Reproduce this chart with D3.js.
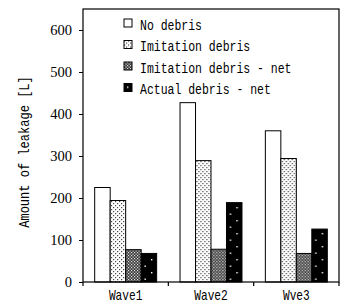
<!DOCTYPE html>
<html>
<head>
<meta charset="utf-8">
<script src="https://cdn.jsdelivr.net/npm/d3@7"></script>
<style>
body { margin: 0; background: #fff; }
svg { display: block; }
</style>
</head>
<body>
<div id="chart"></div>
<script>
var waves = ["Wave1", "Wave2", "Wve3"];
var seriesNames = ["No debris", "Imitation debris", "Imitation debris - net", "Actual debris - net"];
var noDebris = [225, 427, 360];
var imitation = [194, 289, 294];
var imitationNet = [77, 78, 68];
var actualNet = [68, 189, 126];
var yTicks = [0, 100, 200, 300, 400, 500, 600];

var seriesValues = [noDebris, imitation, imitationNet, actualNet];
var fills = ["#fff", "url(#dots)", "url(#hatch)", "url(#blackdots)"];

var W = 344, H = 304;
var margin = {top: 9, right: 5, bottom: 22, left: 83};
var w = W - margin.left - margin.right;
var h = H - margin.top - margin.bottom;

var monoFont = "'Liberation Mono', 'DejaVu Sans Mono', monospace";

var svg = d3.select("#chart").append("svg")
    .attr("width", W)
    .attr("height", H);

// patterns for the bars
var defs = svg.append("defs");
var p1 = defs.append("pattern").attr("id", "dots")
    .attr("patternUnits", "userSpaceOnUse").attr("width", 4).attr("height", 4);
p1.append("rect").attr("width", 4).attr("height", 4).attr("fill", "#fff");
p1.append("rect").attr("x", 0).attr("y", 0).attr("width", 1.2).attr("height", 1.2).attr("fill", "#444");
p1.append("rect").attr("x", 2).attr("y", 2).attr("width", 1.2).attr("height", 1.2).attr("fill", "#444");

var p2 = defs.append("pattern").attr("id", "hatch")
    .attr("patternUnits", "userSpaceOnUse").attr("width", 3).attr("height", 3);
p2.append("rect").attr("width", 3).attr("height", 3).attr("fill", "#3a3a3a");
p2.append("rect").attr("x", 0).attr("y", 0).attr("width", 1.2).attr("height", 1.2).attr("fill", "#e0e0e0");
p2.append("rect").attr("x", 1.5).attr("y", 1.5).attr("width", 1.2).attr("height", 1.2).attr("fill", "#e0e0e0");

var p3 = defs.append("pattern").attr("id", "blackdots")
    .attr("patternUnits", "userSpaceOnUse").attr("width", 13).attr("height", 13);
p3.append("rect").attr("width", 13).attr("height", 13).attr("fill", "#000");
p3.append("rect").attr("x", 3).attr("y", 3).attr("width", 1.4).attr("height", 1.4).attr("fill", "#fff");
p3.append("rect").attr("x", 9.5).attr("y", 9.5).attr("width", 1.4).attr("height", 1.4).attr("fill", "#fff");

var g = svg.append("g").attr("transform", "translate(" + margin.left + "," + margin.top + ")");

var x0 = d3.scaleBand().domain(waves).range([0, w]).padding(0);
var pad = x0.bandwidth() * 0.137;
var x1 = d3.scaleBand().domain(seriesNames).range([pad, x0.bandwidth() - pad]).padding(0);
var y = d3.scaleLinear().domain([0, 650]).range([h, 0]);

// bars
var groups = g.selectAll("g.wave")
    .data(waves)
    .enter().append("g")
    .attr("class", "wave")
    .attr("transform", function(d) { return "translate(" + x0(d) + ",0)"; });

groups.selectAll("rect")
    .data(function(d, i) {
        return seriesNames.map(function(s, j) { return {s: s, j: j, v: seriesValues[j][i]}; });
    })
    .enter().append("rect")
    .attr("x", function(d) { return x1(d.s); })
    .attr("width", x1.bandwidth())
    .attr("y", function(d) { return y(d.v); })
    .attr("height", function(d) { return h - y(d.v); })
    .attr("fill", function(d) { return fills[d.j]; })
    .attr("stroke", "#000")
    .attr("stroke-width", 1);

// frame
g.append("rect")
    .attr("width", w).attr("height", h)
    .attr("fill", "none").attr("stroke", "#000").attr("stroke-width", 1.2);

// y axis
var yAxis = g.append("g").call(d3.axisLeft(y).tickValues(yTicks).tickSize(4).tickPadding(7));
yAxis.select(".domain").remove();
yAxis.attr("font-family", null);
yAxis.selectAll("text")
    .style("font-family", "'Liberation Serif', 'Times New Roman', serif")
    .style("font-size", "14.5px")
    .attr("fill", "#000");

// x axis: ticks on the category boundaries
var xAxis = g.append("g").attr("transform", "translate(0," + h + ")");
xAxis.selectAll("line")
    .data(waves.concat(["end"]))
    .enter().append("line")
    .attr("x1", function(d, i) { return i < waves.length ? x0(d) : w; })
    .attr("x2", function(d, i) { return i < waves.length ? x0(d) : w; })
    .attr("y1", 0).attr("y2", 4)
    .attr("stroke", "#000").attr("stroke-width", 1.2);
xAxis.selectAll("text")
    .data(waves)
    .enter().append("text")
    .attr("transform", function(d) {
        return "translate(" + (x0(d) + x0.bandwidth() / 2) + ",17.5) scale(0.8,1)";
    })
    .attr("text-anchor", "middle")
    .attr("font-family", monoFont)
    .attr("font-size", 14)
    .text(function(d) { return d; });

// y label
svg.append("text")
    .attr("transform", "translate(29,152) rotate(-90) scale(0.86,1)")
    .attr("text-anchor", "middle")
    .attr("font-family", monoFont)
    .attr("font-size", 14)
    .text("Amount of leakage [L]");

// legend
var legend = svg.append("g").attr("transform", "translate(124,19)");
var items = legend.selectAll("g")
    .data(seriesNames)
    .enter().append("g")
    .attr("transform", function(d, i) { return "translate(0," + (i * 21.5) + ")"; });
items.append("rect")
    .attr("width", 8).attr("height", 8)
    .attr("fill", function(d, i) { return fills[i]; })
    .attr("stroke", "#000").attr("stroke-width", 1);
items.append("text")
    .attr("transform", "translate(16,10.5) scale(0.82,1)")
    .attr("font-family", monoFont)
    .attr("font-size", 14)
    .text(function(d) { return d; });
</script>
</body>
</html>
